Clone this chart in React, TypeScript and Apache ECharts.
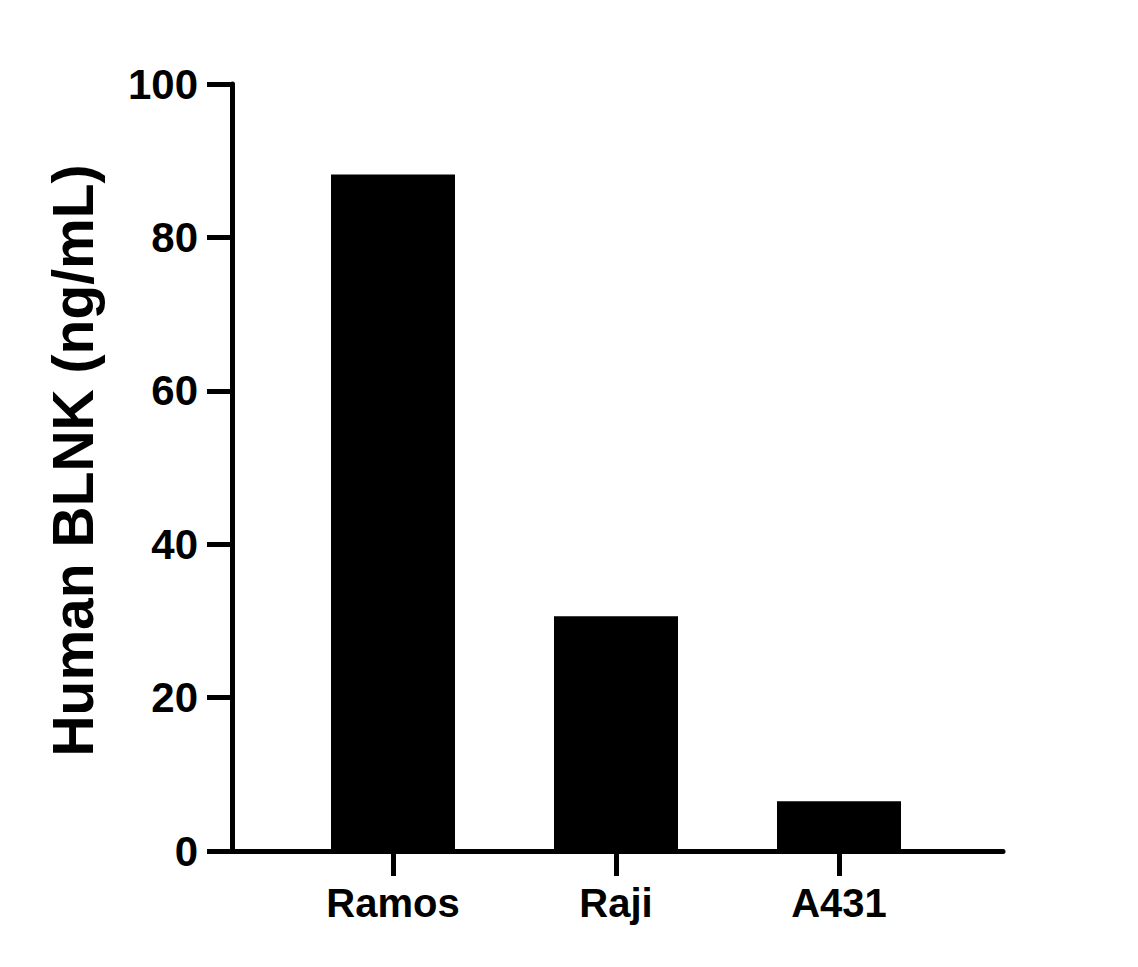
import React, { useEffect, useRef } from "react";
import * as echarts from "echarts";

const categories = ["Ramos", "Raji", "A431"];
const values = [88.2, 30.6, 6.5];
const yTicks = { min: 0, max: 100, interval: 20 };

const FONT = "'Liberation Sans', Arial, Helvetica, sans-serif";

export default function App() {
  const ref = useRef<HTMLDivElement>(null);
  useEffect(() => {
    document.body.style.margin = "0";
    const chart = echarts.init(ref.current!, undefined, { renderer: "svg" });
    const axisLine = { show: true, lineStyle: { color: "#000", width: 5 } };
    chart.setOption({
      animation: false,
      backgroundColor: "#fff",
      grid: [
        { left: 232, right: 135, top: 84, bottom: 116, containLabel: false },
        { left: 281.5, right: 187.5, top: 84, bottom: 116, containLabel: false },
      ],
      xAxis: [
        {
          gridIndex: 0,
          type: "value",
          min: 0,
          max: 1,
          axisLine,
          axisTick: { show: false },
          axisLabel: { show: false },
          splitLine: { show: false },
        },
        {
          gridIndex: 1,
          type: "category",
          data: categories,
          boundaryGap: true,
          axisLine: { show: false },
          axisTick: {
            show: true,
            alignWithLabel: true,
            length: 25,
            lineStyle: { color: "#000", width: 5 },
          },
          axisLabel: {
            margin: 32,
            color: "#000",
            fontSize: 40,
            fontWeight: "bold",
            fontFamily: FONT,
          },
          splitLine: { show: false },
        },
      ],
      yAxis: [
        {
          gridIndex: 0,
          type: "value",
          min: yTicks.min,
          max: yTicks.max,
          interval: yTicks.interval,
          axisLine,
          axisTick: {
            show: true,
            length: 25,
            lineStyle: { color: "#000", width: 5 },
          },
          axisLabel: {
            margin: 34,
            color: "#000",
            fontSize: 42,
            fontWeight: "bold",
            fontFamily: FONT,
          },
          splitLine: { show: false },
          name: "Human BLNK (ng/mL)",
          nameLocation: "middle",
          nameRotate: 90,
          nameGap: 131,
          nameTextStyle: {
            color: "#000",
            fontSize: 57,
            fontWeight: "bold",
            fontFamily: FONT,
            padding: [0, 0, 0, 14],
          },
        },
        {
          gridIndex: 1,
          type: "value",
          min: yTicks.min,
          max: yTicks.max,
          show: false,
          splitLine: { show: false },
        },
      ],
      series: [
        {
          type: "bar",
          xAxisIndex: 1,
          yAxisIndex: 1,
          data: values,
          barWidth: 124,
          itemStyle: { color: "#000" },
          z: 1,
        },
      ],
    });
    return () => chart.dispose();
  }, []);
  return <div ref={ref} style={{ width: 1138, height: 967 }} />;
}
